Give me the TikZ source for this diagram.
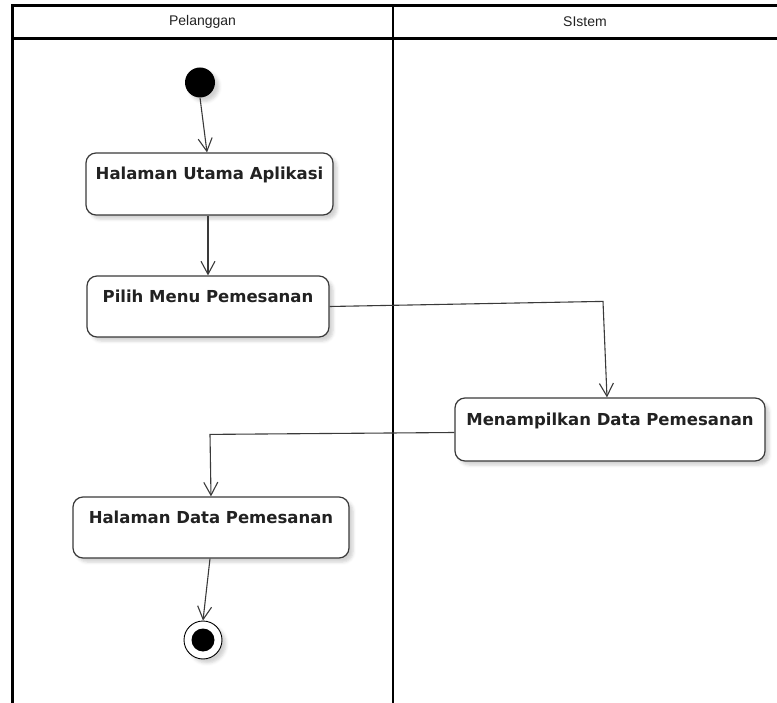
\documentclass[tikz,border=0pt]{standalone}
\usepackage{fontspec}
\setmainfont{DejaVu Sans}
\newfontfamily\headfont{Liberation Sans}
\usetikzlibrary{arrows.meta,shadows.blur,calc}

\definecolor{edge}{HTML}{3A3A3A}
\definecolor{ink}{HTML}{222222}

\tikzset{
  lane/.style={line width=2.4pt, draw=black},
  lanetitle/.style={font=\headfont\fontsize{14}{16}\selectfont, text=ink},
  soft/.style={blur shadow={shadow xshift=4pt, shadow yshift=-4pt,
      shadow blur radius=3pt, shadow opacity=18}},
  act/.style={draw=edge, line width=1.2pt, rounded corners=10pt, fill=white,
      soft, inner sep=0pt, text height=12pt, text depth=20pt, text=ink,
      font=\bfseries\fontsize{16.5}{20}\selectfont},
  startdot/.style={circle, fill=black, inner sep=0pt, minimum size=30pt, soft},
  enddot/.style={circle, draw=black, line width=0.9pt, fill=white, inner sep=0pt,
      minimum size=38pt, soft,
      path picture={\fill[black] (path picture bounding box.center) circle (11.5pt);}},
  flow/.style={draw=edge, line width=1.1pt,
      -{Straight Barb[length=13pt, width=14pt, line width=1.1pt]}}
}

\begin{document}
\begin{tikzpicture}[x=1pt, y=-1pt]
\useasboundingbox (0,0) rectangle (777,703);

% swimlane frame
\draw[lane] (12.5,703) -- (12.5,5.5) -- (777,5.5);
\draw[lane] (12.5,38.5) -- (777,38.5);
\draw[lane] (393,5.5) -- (393,703);
\node[lanetitle] (laneA) at (202.5,21.5) {Pelanggan};
\node[lanetitle] (laneB) at (585,21.5) {SIstem};

% activities
\node[startdot] (init) at (200,82.5) {};
\node[act, minimum width=247pt, minimum height=62pt] (hua) at (209.5,184) {Halaman Utama Aplikasi};
\node[act, minimum width=242pt, minimum height=61pt] (pmp) at (208,306.5) {Pilih Menu Pemesanan};
\node[act, minimum width=310pt, minimum height=63pt] (mdp) at (610,429.5) {Menampilkan Data Pemesanan};
\node[act, minimum width=276pt, minimum height=61pt] (hdp) at (211,527.5) {Halaman Data Pemesanan};
\node[enddot] (fin) at (203,640) {};

% control flow
\draw[flow] (init.south) -- ($(hua.north)+(-2.5,0)$);
\draw[flow] ($(hua.south)+(-1.5,0)$) -- (pmp.north);
\draw[flow] (pmp.east) -- ($(mdp.north)+(-7,-96)$) -- ($(mdp.north)+(-3,0)$);
\draw[flow] ($(mdp.west)+(0,3)$) -- ($(hdp.north)+(-1,-62)$) -- (hdp.north);
\draw[flow] ($(hdp.south)+(-1,0)$) -- (fin.north);
\end{tikzpicture}
\end{document}
